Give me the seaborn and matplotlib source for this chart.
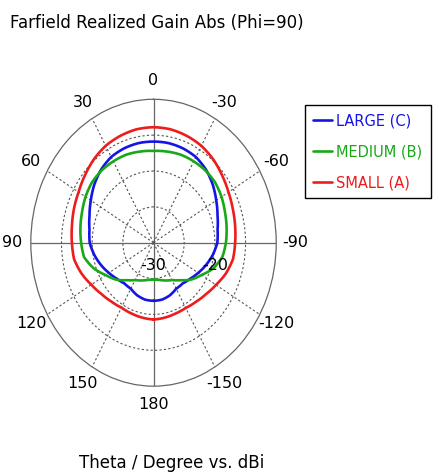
import numpy as np
import pandas as pd
import matplotlib.pyplot as plt
import seaborn as sns

# theta in degrees, gain in dBi (read from the CST farfield cut, Phi=90)
theta_deg = [-180, -170, -160, -150, -140, -130, -120, -110, -100, -90,
             -80, -70, -60, -50, -40, -30, -20, -10, 0,
             10, 20, 30, 40, 50, 60, 70, 80, 90,
             100, 110, 120, 130, 140, 150, 160, 170, 180]

large_c = [-21.9, -21.95, -22.2, -22.6, -22.6, -22.2, -21.6, -20.9, -20.2, -19.6,
           -19.4, -18.9, -18.2, -17.4, -16.7, -16.2, -16.0, -15.9, -15.9,
           -15.9, -16.0, -16.2, -16.7, -17.4, -18.2, -18.9, -19.4, -19.6,
           -20.2, -20.9, -21.6, -22.2, -22.6, -22.6, -22.2, -21.95, -21.9]

medium_b = [-24.9, -24.75, -24.4, -24.0, -23.2, -22.0, -21.0, -19.6, -18.6, -18.2,
            -17.9, -17.6, -17.2, -16.9, -16.85, -16.9, -16.95, -17.1, -17.2,
            -17.1, -16.95, -16.9, -16.85, -16.9, -17.2, -17.6, -17.9, -18.2,
            -18.5, -19.6, -21.0, -22.0, -23.2, -24.0, -24.4, -24.75, -24.9]

small_a = [-19.3, -19.4, -19.5, -19.5, -19.25, -18.85, -18.25, -17.45, -16.85, -16.7,
           -16.5, -16.25, -15.9, -15.4, -14.85, -14.4, -14.15, -13.95, -13.9,
           -13.95, -14.15, -14.4, -14.85, -15.4, -15.9, -16.2, -16.5, -16.7,
           -16.85, -17.5, -18.3, -18.9, -19.3, -19.55, -19.5, -19.4, -19.3]

series_names = ["LARGE (C)", "MEDIUM (B)", "SMALL (A)"]
colors = ["#1414e6", "#18a818", "#ee1c1c"]

theta_ticks = [0, 30, 60, 90, 120, 150, 180, 210, 240, 270, 300, 330]
theta_labels = ["0", "30", "60", "90", "120", "150", "180", "-150", "-120", "-90", "-60", "-30"]

frames = []
for name, vals in zip(series_names, [large_c, medium_b, small_a]):
    frames.append(pd.DataFrame({"theta": np.deg2rad(theta_deg), "gain": vals, "series": name}))
df = pd.concat(frames, ignore_index=True)

sns.set_style("white")
plt.rcParams["font.family"] = ["DejaVu Sans"]
plt.rcParams["text.color"] = "black"
plt.rcParams["xtick.color"] = "black"
plt.rcParams["ytick.color"] = "black"

fig = plt.figure(figsize=(4.37, 4.75), dpi=100)
ax = fig.add_axes([0.0705, 0.187, 0.5616, 0.604], projection="polar")
ax.set_aspect("auto")
ax.set_theta_zero_location("N")
ax.set_theta_direction(1)

sns.lineplot(data=df, x="theta", y="gain", hue="series", hue_order=series_names,
             palette=colors, estimator=None, sort=False, linewidth=1.9, ax=ax)

# draw segments as arcs in (theta, r) space so the cuts look smooth
for ln in ax.lines:
    ln.get_path()._interpolation_steps = 16

ax.set_rlim(-30, -10)
ax.set_rgrids([-25, -20, -15], labels=["", "", ""])
ax.set_thetagrids(theta_ticks, labels=theta_labels, fontsize=11.5, color="black")
ax.tick_params(axis="x", pad=3)
ax.set_xlabel("")
ax.set_ylabel("")

for gl in ax.yaxis.get_gridlines():
    gl.set_linestyle((0, (2, 2)))
    gl.set_color("#555555")
    gl.set_linewidth(0.8)
for i, gl in enumerate(ax.xaxis.get_gridlines()):
    if i % 3 == 0:
        gl.set_linestyle("-")
        gl.set_color("#666666")
        gl.set_linewidth(0.9)
    else:
        gl.set_linestyle((0, (2, 2)))
        gl.set_color("#555555")
        gl.set_linewidth(0.8)
ax.spines["polar"].set_color("#666666")
ax.spines["polar"].set_linewidth(0.9)

# ring value labels
ax.text(0.5, 0.422, "-30", transform=ax.transAxes, ha="center", va="center",
        fontsize=11.5, color="black")
ax.text(0.75, 0.422, "-20", transform=ax.transAxes, ha="center", va="center",
        fontsize=11.5, color="black")

handles, labels = ax.get_legend_handles_labels()
ax.get_legend().remove()
leg = fig.legend(handles, labels, loc="upper left", bbox_to_anchor=(305 / 437, 1 - 105 / 475),
                 frameon=True, fancybox=False, framealpha=1, edgecolor="black",
                 labelcolor="linecolor", fontsize=10.5, handlelength=1.3,
                 handletextpad=0.3, borderpad=0.55, labelspacing=1.1, borderaxespad=0)
leg.get_frame().set_linewidth(1.0)

fig.text(10 / 437, 1 - 23 / 475, "Farfield Realized Gain Abs (Phi=90)",
         ha="left", va="center", fontsize=12, color="black")
fig.text(171.5 / 437, 1 - 463 / 475, "Theta / Degree vs. dBi",
         ha="center", va="center", fontsize=12, color="black")

fig.savefig("out.png", dpi=100)
